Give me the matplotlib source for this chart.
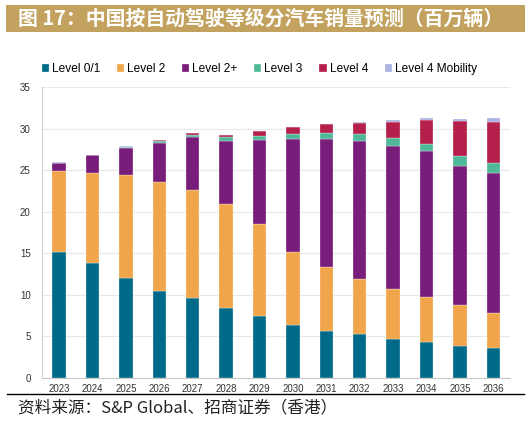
import numpy as np
import matplotlib.pyplot as plt
from matplotlib.lines import Line2D
from matplotlib.patches import Rectangle

plt.rcParams['font.family'] = ['Liberation Sans', 'Noto Sans CJK SC', 'DejaVu Sans']

# ----------------------------
# Data (million vehicles)
# ----------------------------
years = ['2023', '2024', '2025', '2026', '2027', '2028', '2029',
         '2030', '2031', '2032', '2033', '2034', '2035', '2036']
level01 = [15.2, 13.8, 12.0, 10.5, 9.65, 8.45, 7.5, 6.35, 5.65, 5.25, 4.75, 4.3, 3.8, 3.55]
level2 = [9.7, 10.8, 12.4, 13.1, 12.95, 12.5, 11.0, 8.75, 7.75, 6.6, 5.9, 5.45, 4.95, 4.25]
level2p = [1.0, 2.2, 3.3, 4.65, 6.35, 7.5, 10.15, 13.6, 15.35, 16.65, 17.25, 17.5, 16.8, 16.85]
level3 = [0.0, 0.0, 0.1, 0.25, 0.28, 0.5, 0.5, 0.65, 0.7, 0.85, 0.95, 0.95, 1.15, 1.25]
level4 = [0.0, 0.0, 0.0, 0.1, 0.22, 0.25, 0.55, 0.8, 1.05, 1.3, 1.95, 2.8, 4.2, 4.95]
level4m = [0.05, 0.05, 0.05, 0.05, 0.05, 0.05, 0.05, 0.05, 0.1, 0.12, 0.2, 0.25, 0.3, 0.4]

series = [
    ('Level 0/1', level01, '#006b89'),
    ('Level 2', level2, '#f0a54a'),
    ('Level 2+', level2p, '#791d7b'),
    ('Level 3', level3, '#4fb898'),
    ('Level 4', level4, '#b51f4b'),
    ('Level 4 Mobility', level4m, '#aab3e2'),
]

fig = plt.figure(figsize=(5.31, 4.22), dpi=100)

# title banner
fig.patches.append(Rectangle((6 / 531, 1 - 32 / 422), 519 / 531, 27 / 422,
                             transform=fig.transFigure, facecolor='#c2a25e',
                             edgecolor='none'))
fig.text(18 / 531, 1 - 18.5 / 422, '图 17：中国按自动驾驶等级分汽车销量预测（百万辆）',
         family=['Noto Sans CJK SC', 'DejaVu Sans'], fontsize=14.3,
         fontweight='bold', color='white', va='center', ha='left')

ax = fig.add_axes([41.7 / 531, 44 / 422, 468.3 / 531, 291 / 422])

x = np.arange(len(years))
bottom = np.zeros(len(years))
for name, vals, col in series:
    vals = np.array(vals)
    ax.bar(x, vals, 0.4, bottom=bottom, color=col, label=name,
           edgecolor='white', linewidth=0.2)
    bottom += vals

ax.set_xlim(-0.52, 13.5)
ax.set_ylim(0, 35)
ax.set_yticks(range(0, 36, 5))
ax.set_xticks(x)
ax.set_xticklabels(years)
ax.tick_params(axis='both', length=0, labelsize=7, colors='#333333')
ax.tick_params(axis='x', pad=4)
ax.tick_params(axis='y', pad=8)
ax.grid(axis='y', color='#e8e8e8', linewidth=0.8)
ax.set_axisbelow(True)
for s in ['top', 'right']:
    ax.spines[s].set_visible(False)
ax.spines['left'].set_color('#d0d0d0')
ax.spines['bottom'].set_color('#c8c8c8')

ax.legend(loc='lower left', bbox_to_anchor=(0.0, 1.04), ncol=6, frameon=False,
          fontsize=8.6, handlelength=0.6, handleheight=0.6, handletextpad=0.25,
          columnspacing=1.4, borderaxespad=0, borderpad=0)

# bottom rule and source
fig.add_artist(Line2D([7 / 531, 524 / 531], [1 - 394 / 422, 1 - 394 / 422],
                      transform=fig.transFigure, color='black', linewidth=1.0))
fig.text(18 / 531, 1 - 408 / 422, '资料来源：S&P Global、招商证券（香港）',
         family=['Noto Sans CJK SC', 'DejaVu Sans'], fontsize=12,
         style='italic', color='#222222', va='center', ha='left')

fig.savefig('out.png', dpi=100)
